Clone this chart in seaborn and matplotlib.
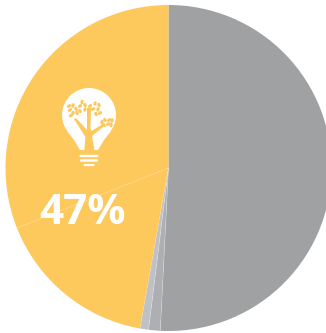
import numpy as np
import matplotlib
matplotlib.use("Agg")
import matplotlib.pyplot as plt
from matplotlib.patches import Circle, Ellipse, Polygon, FancyBboxPatch
import seaborn as sns

# Shares of the whole, clockwise from twelve o'clock
segments = ["Grey A", "Grey B", "Grey C", "Yellow A", "Yellow B"]
shares = [50.8, 1.15, 0.85, 16.2, 31.0]
headline = "47%"
slice_colors = ["#A0A1A3", "#AEAFB2", "#BFC1C6", "#FDC85C", "#FDC85C"]

WHITE = "#FFFFFF"
YELLOW = "#FDC85C"
W, H = 326, 333

sns.set_theme(style="white")
plt.rcParams["font.family"] = ["Open Sans", "DejaVu Sans"]

fig = plt.figure(figsize=(W / 100, H / 100), dpi=100)
ax = fig.add_axes([0, 0, 1, 1])

palette = sns.color_palette(slice_colors)
cx, cy, radius = 168.5, H - 168, 163
wedges, _ = ax.pie(shares, colors=palette, startangle=90, counterclock=False,
                   center=(cx, cy), radius=radius, frame=False,
                   wedgeprops={"linewidth": 0})
ax.set_xlim(0, W)
ax.set_ylim(0, H)
ax.set_aspect("equal")
ax.axis("off")

# Hairlines between neighbouring slices
for w, alpha in zip(wedges[:4], [0.3, 0.3, 0.15, 0.18]):
    a = np.deg2rad(w.theta1)
    ax.plot([cx, cx + radius * np.cos(a)], [cy, cy + radius * np.sin(a)],
            color=WHITE, lw=0.5, alpha=alpha, zorder=3)

ax.text(82, H - 213.5, headline, color=WHITE, fontsize=30.5, fontweight="bold",
        ha="center", va="center", zorder=5)


# Icon helpers work in pixel coordinates measured from the top of the figure
def px(x, y):
    return (x, H - y)


def poly(points, color, z=6):
    ax.add_patch(Polygon([px(*p) for p in points], closed=True, fc=color, ec="none", zorder=z))


# Bulb glass and neck
ax.add_patch(Circle(px(89, 115), 27, fc=WHITE, ec="none", zorder=6))
poly([(67, 131), (111, 131), (104, 140), (98, 150), (80, 150), (74, 140)], WHITE)

# Screw base
for y, half, h in [(156, 9.5, 2.4), (160.5, 9, 2.4), (165, 5.5, 2.2)]:
    ax.add_patch(FancyBboxPatch(px(89 - half, y + h / 2), 2 * half, h,
                                boxstyle="round,pad=0,rounding_size=1.1",
                                fc=WHITE, ec="none", zorder=6))

# Tree trunk and branches
poly([(87, 108), (91, 108), (90.5, 128), (91.5, 131), (103, 124), (104, 126),
      (92, 136), (95, 153), (84, 153), (85.5, 137), (74, 119), (76, 118), (87, 130)], YELLOW, 7)

# Leaf clusters on the branches
leaves = [(69, 106), (73, 105.5), (76, 109), (70, 110), (73, 113), (77, 113), (71, 115.5),
          (82, 102), (85, 105), (80, 106), (85, 109.5), (80, 111),
          (90, 106), (95, 103.5), (99, 105), (93, 109), (98, 109.5), (96, 114), (100, 113),
          (102, 122), (105, 120), (109, 120), (112, 120.5), (104, 125), (108, 124), (111, 125)]
for i, (x, y) in enumerate(leaves):
    ax.add_patch(Ellipse(px(x, y), 4.6, 3.2, angle=35 + 40 * (i % 3), fc=YELLOW, ec="none", zorder=8))

fig.savefig("out.png", dpi=100, facecolor="white")
